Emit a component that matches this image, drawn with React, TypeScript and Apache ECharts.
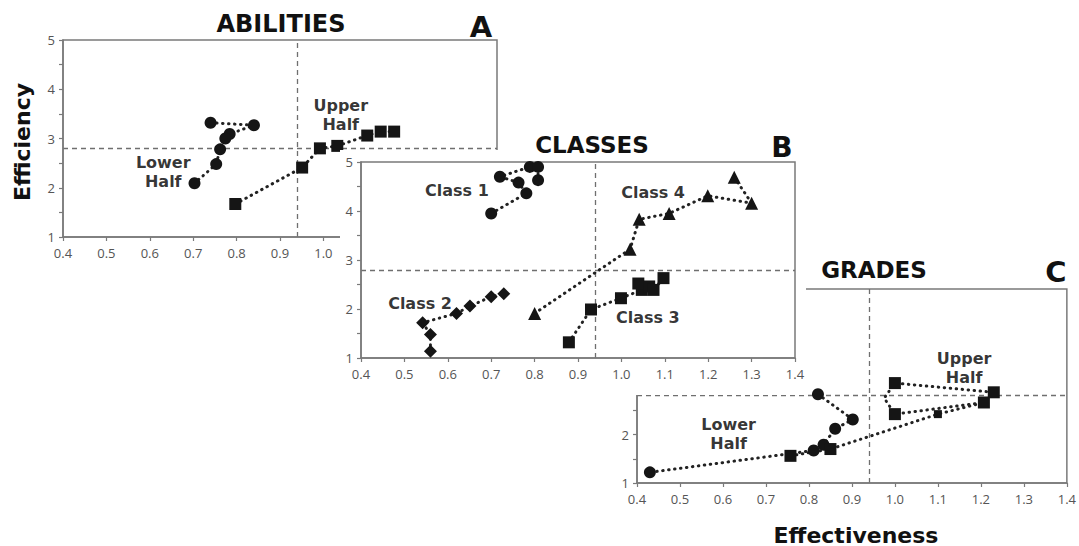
import React, { useEffect, useRef } from "react";
import * as echarts from "echarts";

// ---- data (x = Effectiveness, y = Efficiency) ----
const xTickMin = 0.4;
const xTickMax = 1.4;
const yTickMin = 1;
const yTickMax = 5;
const refEffectiveness = 0.94;
const refEfficiency = 2.8;

// Panel A: ABILITIES
const abilitiesLower = [[0.74, 3.32], [0.84, 3.27], [0.784, 3.09], [0.774, 3.0], [0.762, 2.78], [0.753, 2.48], [0.703, 2.09]];
const abilitiesUpper = [[0.797, 1.67], [0.951, 2.41], [0.992, 2.8], [1.032, 2.85], [1.101, 3.06], [1.132, 3.14], [1.163, 3.14]];
const abilitiesNotes = [
  { name: "Upper\nHalf", value: [1.04, 3.48] },
  { name: "Lower\nHalf", value: [0.631, 2.32] },
];

// Panel B: CLASSES
const class1 = [[0.7, 3.95], [0.781, 4.36], [0.763, 4.58], [0.72, 4.7], [0.789, 4.9], [0.808, 4.9], [0.808, 4.63]];
const class2 = [[0.56, 1.14], [0.56, 1.48], [0.542, 1.72], [0.62, 1.91], [0.651, 2.06], [0.7, 2.25], [0.729, 2.31]];
const class3 = [[0.879, 1.32], [0.93, 1.99], [0.999, 2.22], [1.047, 2.39], [1.039, 2.52], [1.064, 2.46], [1.074, 2.39], [1.097, 2.63]];
const class4 = [[0.8, 1.91], [1.02, 3.22], [1.041, 3.83], [1.11, 3.95], [1.199, 4.31], [1.3, 4.16], [1.26, 4.69]];
const classNotes = [
  { name: "Class 1", value: [0.621, 4.41] },
  { name: "Class 4", value: [1.073, 4.37] },
  { name: "Class 2", value: [0.536, 2.12] },
  { name: "Class 3", value: [1.061, 1.82] },
];

// Panel C: GRADES
const gradesLower = [[0.821, 2.83], [0.902, 2.31], [0.861, 2.12], [0.834, 1.79], [0.811, 1.67], [0.43, 1.22]];
const gradesUpper = [[0.757, 1.56], [0.85, 1.7], [1.1, 2.42], [1.207, 2.66], [1.0, 2.42], [0.975, 2.75], [1.0, 3.06], [1.23, 2.87]];
const gradesNotes = [
  { name: "Upper\nHalf", value: [1.161, 3.375] },
  { name: "Lower\nHalf", value: [0.613, 2.01] },
];

const titles = ["ABILITIES", "CLASSES", "GRADES"];
const panelLetters = ["A", "B", "C"];
const yAxisName = "Efficiency";
const xAxisName = "Effectiveness";
// visible tick-label ranges (rest hidden under the overlapping panel)
const xLabelMax = [1.0, 1.4, 1.4];
const yLabelMax = [5, 5, 2];

const INK = "#151515";
const AXIS = "#7a7a7a";
const TICKTEXT = "#555";

export default function App() {
  const ref = useRef<HTMLDivElement>(null);
  useEffect(() => {
    if (!ref.current) return;
    const chart = echarts.init(ref.current, null, { renderer: "svg" });

    const grids = [
      { left: 63, top: 40, width: 434, height: 197, z: 0 },
      { left: 361, top: 162, width: 434, height: 196, z: 6 },
      { left: 637, top: 289, width: 433, height: 194, z: 0 },
    ];
    const axisZ = [1, 6, 1];
    const seriesZ = [2, 7, 2];

    const xAxes = grids.map((_, i) => ({
      type: "value",
      gridIndex: i,
      min: xTickMin,
      max: xTickMax,
      interval: 0.1,
      z: axisZ[i],
      axisLine: { show: true, lineStyle: { color: AXIS, width: 1.5 } },
      axisTick: { show: true, length: 4, lineStyle: { color: AXIS, width: 1.2 } },
      splitLine: { show: false },
      axisLabel: {
        color: TICKTEXT,
        fontFamily: "'Open Sans'",
        fontSize: 13,
        margin: 9,
        formatter: (v: number) => (v <= xLabelMax[i] + 1e-6 ? v.toFixed(1) : ""),
      },
    }));
    const yAxes = grids.map((_, i) => ({
      type: "value",
      gridIndex: i,
      min: yTickMin,
      max: yTickMax,
      interval: 0.5,
      z: axisZ[i],
      axisLine: { show: true, lineStyle: { color: AXIS, width: 1.5 } },
      axisTick: { show: true, length: 4, lineStyle: { color: AXIS, width: 1.2 } },
      splitLine: { show: false },
      axisLabel: {
        color: TICKTEXT,
        fontFamily: "'Open Sans'",
        fontSize: 13,
        margin: 8,
        formatter: (v: number) => (Number.isInteger(v) && v <= yLabelMax[i] ? String(v) : ""),
      },
    }));

    const dotted = { type: [0.5, 5.5], width: 3, color: "#222", cap: "round" };

    const line = (data: number[][], idx: number, symbol: string, size: any) => ({
      type: "line",
      xAxisIndex: idx,
      yAxisIndex: idx,
      z: seriesZ[idx],
      data,
      symbol,
      symbolSize: size,
      showSymbol: true,
      lineStyle: dotted,
      itemStyle: { color: INK },
      emphasis: { disabled: true },
      silent: true,
    });

    const notes = (data: any[], idx: number) => ({
      type: "scatter",
      xAxisIndex: idx,
      yAxisIndex: idx,
      z: seriesZ[idx] + 1,
      data,
      symbolSize: 0,
      silent: true,
      label: {
        show: true,
        position: "inside",
        formatter: "{b}",
        fontFamily: "'DejaVu Sans'",
        fontWeight: "bold",
        fontSize: 16,
        color: "#000",
        textBorderWidth: 0,
        lineHeight: 19,
        align: "center",
      },
      markLine: {
        silent: true,
        z: seriesZ[idx] - 1,
        symbol: "none",
        label: { show: false },
        lineStyle: { type: [5, 4], color: "#6f6f6f", width: 1.3 },
        data: [{ xAxis: refEffectiveness }, { yAxis: refEfficiency }],
      },
    });

    const titleText = (text: string, x: number, y: number, size: number, z: number, rotation = 0) => ({
      type: "text",
      x,
      y,
      z,
      rotation,
      style: {
        text,
        font: `bold ${size}px 'DejaVu Sans'`,
        fill: "#111",
        textAlign: "center",
        textVerticalAlign: "middle",
        align: "center",
        verticalAlign: "middle",
      },
    });

    const option: any = {
      animation: false,
      backgroundColor: "#fff",
      grid: grids.map((g) => ({ ...g, show: true, borderColor: AXIS, borderWidth: 1.5, backgroundColor: "transparent" })),
      xAxis: xAxes,
      yAxis: yAxes,
      graphic: [
        { type: "rect", z: 5, shape: { x: 340, y: 150, width: 466, height: 245 }, style: { fill: "#fff" } },
        titleText(titles[0], 281, 24, 24, 10),
        titleText(panelLetters[0], 481, 27, 29, 10),
        titleText(titles[1], 592, 145, 23, 10),
        titleText(panelLetters[1], 782, 147, 28, 10),
        titleText(titles[2], 874, 270, 23, 10),
        titleText(panelLetters[2], 1056, 272, 29, 10),
        titleText(yAxisName, 22, 142, 22, 10, Math.PI / 2),
        titleText(xAxisName, 856, 535, 22, 10),
      ],
      series: [
        line(abilitiesLower, 0, "circle", 12),
        line(abilitiesUpper, 0, "rect", 12),
        notes(abilitiesNotes, 0),
        line(class1, 1, "circle", 12),
        line(class2, 1, "diamond", 13),
        line(class3, 1, "rect", 12),
        line(class4, 1, "triangle", 13),
        notes(classNotes, 1),
        line(gradesLower, 2, "circle", 12),
        line(gradesUpper, 2, "rect", (_v: any, p: any) => (p.dataIndex === 2 ? 8 : p.dataIndex === 5 ? 0 : 12)),
        notes(gradesNotes, 2),
      ],
    };
    chart.setOption(option);
    return () => chart.dispose();
  }, []);

  return (
    <div
      ref={ref}
      style={{ position: "fixed", left: 0, top: 0, width: 1079, height: 546, background: "#fff" }}
    />
  );
}
